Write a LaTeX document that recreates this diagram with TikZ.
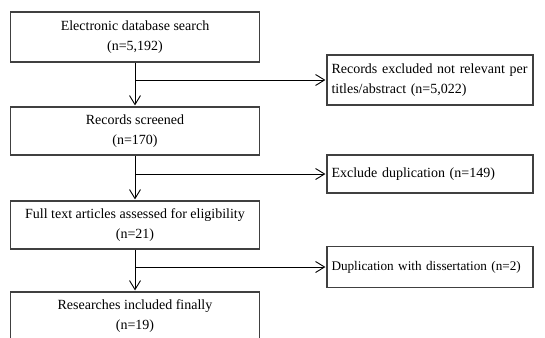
\documentclass[tikz,border=0pt]{standalone}
\usepackage{fontspec}
\setmainfont{Liberation Serif}
\usetikzlibrary{arrows.meta}

\begin{document}
\begin{tikzpicture}[x=1pt, y=-1pt, shorten >=1pt,
    >={Straight Barb[length=9pt, width=11pt]},
    stage/.style={draw=black!75, line width=1.2pt, minimum width=249pt, minimum height=48pt,
        inner sep=0pt, align=center, font=\fontsize{14}{20}\selectfont},
    excl/.style={stage, minimum width=206pt, text width=197pt, align=left},
    flow/.style={->, line width=0.9pt}]
    \useasboundingbox (0,0) rectangle (545,337);

    \node[stage, minimum height=50pt] (search) at (135,37) {Electronic database search\\(n=5,192)};
    \node[stage] (screened) at (135,131) {Records screened\\(n=170)};
    \node[stage] (fulltext) at (135,225) {Full text articles assessed for eligibility\\(n=21)};
    \node[stage] (included) at (135,316) {Researches included finally\\(n=19)};

    \node[excl, minimum height=50pt] (excl1) at (430,80) {Records excluded not relevant per\\titles/abstract (n=5,022)};
    \node[excl, minimum height=38pt] (excl2) at (430,174) {Exclude duplication (n=149)};
    \node[excl, minimum height=41pt, font=\fontsize{13.2}{20}\selectfont] (excl3) at (430,267) {\mbox{Duplication with dissertation (n=2)}};

    \coordinate (b1) at (135,80);
    \coordinate (b2) at (135,174);
    \coordinate (b3) at (135,267);

    \draw[flow] (search) -- (screened);
    \draw[flow] (screened) -- (fulltext);
    \draw[flow] (fulltext) -- (included);
    \draw[flow] (b1) -- (excl1);
    \draw[flow] (b2) -- (excl2);
    \draw[flow] (b3) -- (excl3);
\end{tikzpicture}
\end{document}
